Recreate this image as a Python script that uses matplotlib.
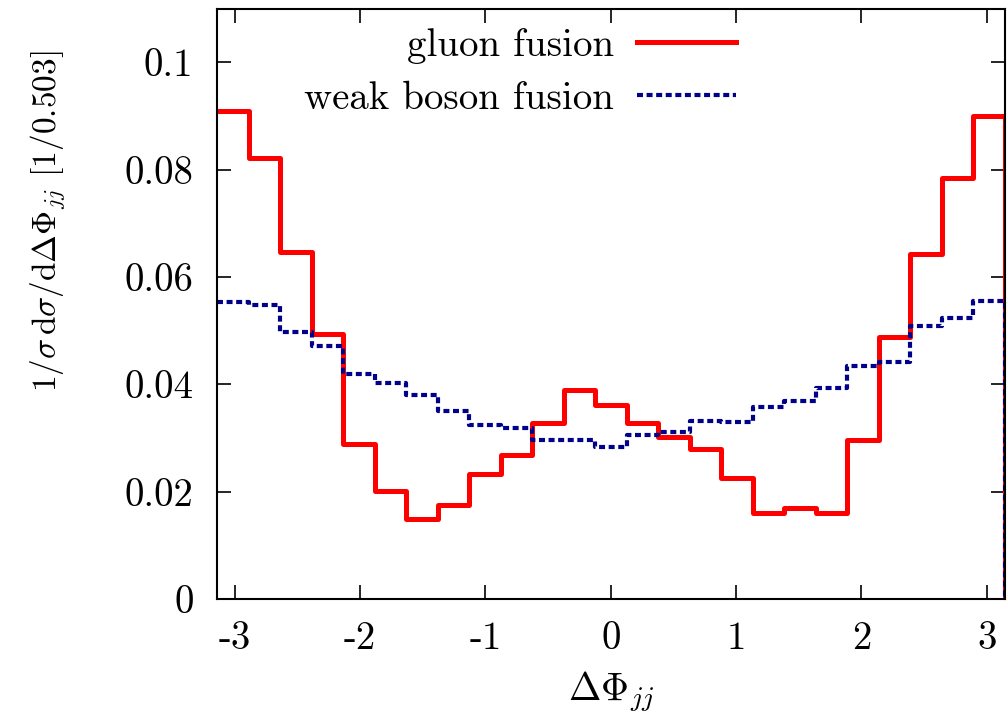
import numpy as np
import matplotlib
matplotlib.use("Agg")
import matplotlib.pyplot as plt
from matplotlib.lines import Line2D

plt.rcParams['font.family'] = 'serif'
plt.rcParams['font.serif'] = ['cmr10', 'DejaVu Serif']
plt.rcParams['mathtext.fontset'] = 'cm'
plt.rcParams['axes.unicode_minus'] = False
plt.rcParams['axes.formatter.use_mathtext'] = True
plt.rcParams['lines.scale_dashes'] = False

n_bins = 25
edges = np.linspace(-np.pi, np.pi, n_bins + 1)

gluon_fusion = [0.0910, 0.0822, 0.0646, 0.0493, 0.0288, 0.0202, 0.0149, 0.0175,
                0.0233, 0.0268, 0.0327, 0.0389, 0.0361, 0.0327, 0.0302, 0.0279,
                0.0226, 0.0161, 0.0170, 0.0160, 0.0296, 0.0488, 0.0643, 0.0785,
                0.0899]
weak_boson_fusion = [0.0554, 0.0548, 0.0497, 0.0472, 0.0419, 0.0402, 0.0381, 0.0350,
                     0.0324, 0.0319, 0.0296, 0.0296, 0.0284, 0.0306, 0.0311, 0.0332,
                     0.0330, 0.0357, 0.0369, 0.0394, 0.0434, 0.0442, 0.0509, 0.0524,
                     0.0556]

xticks = [-3, -2, -1, 0, 1, 2, 3]
xticklabels = ['-3', '-2', '-1', '0', '1', '2', '3']
yticks = [0, 0.02, 0.04, 0.06, 0.08, 0.1]
yticklabels = ['0', '0.02', '0.04', '0.06', '0.08', '0.1']

RED = '#ff0000'
BLUE = '#00008b'
DASH = (0, (4.3, 2.6))

fig = plt.figure(figsize=(10.08, 7.18), dpi=100)
ax = fig.add_axes([217/1008, 1 - 599/718, 787.5/1008, (599 - 8.6)/718])

# histogram outlines: no vertical at left edge, drop to zero at right edge
ax.step(edges, list(gluon_fusion) + [0.0], where='post', color=RED, linewidth=3.6)
ax.step(edges, list(weak_boson_fusion) + [0.0], where='post', color=BLUE,
        linewidth=3.0, linestyle=DASH)

ax.set_xlim(-np.pi, np.pi)
ax.set_ylim(0, 0.11)
ax.set_xticks(xticks)
ax.set_xticklabels(xticklabels)
ax.set_yticks(yticks)
ax.set_yticklabels(yticklabels)
ax.tick_params(direction='in', length=10, width=1.2, top=True, right=True,
               labelsize=28)
ax.tick_params(axis='x', pad=16)
ax.tick_params(axis='y', pad=17)
for s in ax.spines.values():
    s.set_linewidth(1.5)

ax.set_xlabel(r'$\Delta\Phi_{jj}$', fontsize=28, labelpad=9)
ax.set_ylabel(r'$1/\sigma\,\mathrm{d}\sigma/\mathrm{d}\Delta\Phi_{jj}$ [1/0.503]',
              fontsize=24)
ax.yaxis.set_label_coords(-0.19, 0.639)

h1 = Line2D([], [], color=RED, linewidth=3.6)
h2 = Line2D([], [], color=BLUE, linewidth=3.0, linestyle=DASH)
leg = ax.legend([h1, h2], ['gluon fusion', 'weak boson fusion'], frameon=False,
                markerfirst=False, fontsize=28, handlelength=2.55,
                handletextpad=0.6, labelspacing=0.43,
                loc='upper right', bbox_to_anchor=(0.684, 1.0), borderaxespad=0.1)

fig.savefig('out.png', dpi=100)
